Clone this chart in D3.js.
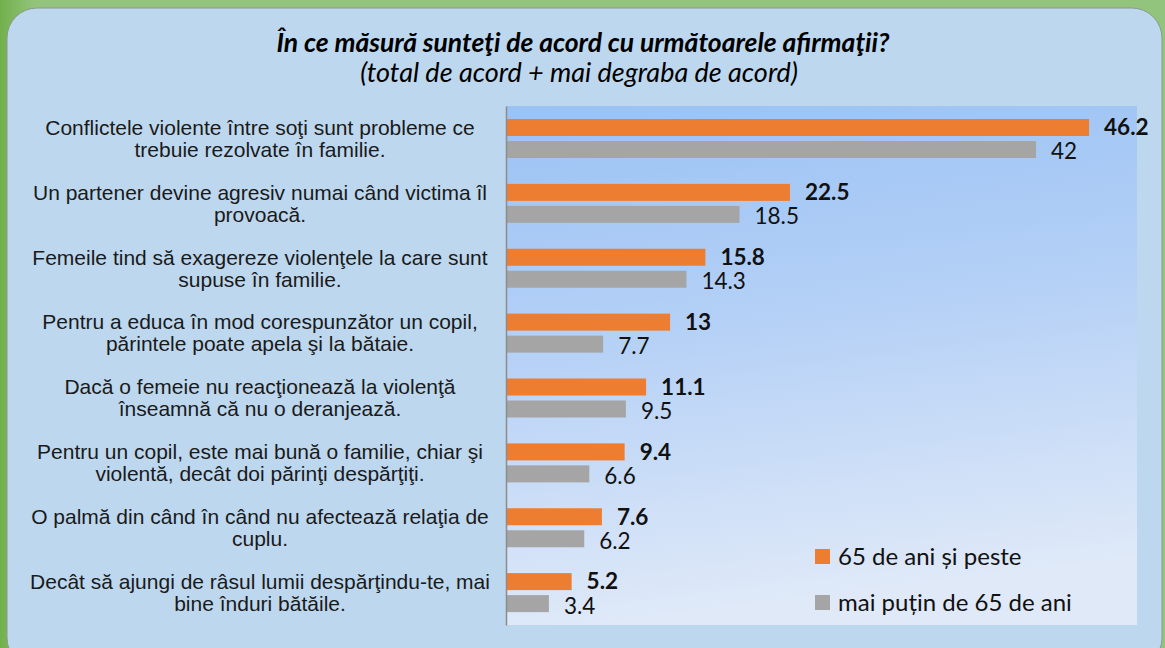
<!DOCTYPE html>
<html>
<head>
<meta charset="utf-8">
<script src="https://cdn.jsdelivr.net/npm/d3@7"></script>
<style>
	body { margin: 0; background: #93c47d; }
	svg { display: block; }
</style>
</head>
<body>
<script>
//Chart data
let categories = [
	["Conflictele violente între soţi sunt probleme ce", "trebuie rezolvate în familie."],
	["Un partener devine agresiv numai când victima îl", "provoacă."],
	["Femeile tind să exagereze violenţele la care sunt", "supuse în familie."],
	["Pentru a educa în mod corespunzător un copil,", "părintele poate apela şi la bătaie."],
	["Dacă o femeie nu reacţionează la violenţă", "înseamnă că nu o deranjează."],
	["Pentru un copil, este mai bună o familie, chiar şi", "violentă, decât doi părinţi despărţiţi."],
	["O palmă din când în când nu afectează relaţia de", "cuplu."],
	["Decât să ajungi de râsul lumii despărţindu-te, mai", "bine înduri bătăile."]
];
let seriesNames = ["65 de ani și peste", "mai puțin de 65 de ani"];
let oldValues = [46.2, 22.5, 15.8, 13, 11.1, 9.4, 7.6, 5.2];
let youngValues = [42, 18.5, 14.3, 7.7, 9.5, 6.6, 6.2, 3.4];
let colors = ["#ed7d31", "#a5a5a5"];

window.onload = drawChart();

function drawChart(){

	let width = 1165;
	let height = 648;

	let svg = d3.select("body")
		.append("svg")
		.attr("width", width)
		.attr("height", height);

	let defs = svg.append("defs");
	let grad = defs.append("linearGradient")
		.attr("id", "plotGrad")
		.attr("x1", 0).attr("y1", 0)
		.attr("x2", 0.15).attr("y2", 1);
	grad.append("stop").attr("offset", "0%").attr("stop-color", "#9ac2f4");
	grad.append("stop").attr("offset", "45%").attr("stop-color", "#b4d0f6");
	grad.append("stop").attr("offset", "100%").attr("stop-color", "#dfe9f8");

	let greenGrad = defs.append("linearGradient")
		.attr("id", "greenGrad")
		.attr("x1", 0).attr("y1", 0)
		.attr("x2", 1).attr("y2", 0);
	greenGrad.append("stop").attr("offset", "0%").attr("stop-color", "#72b04c");
	greenGrad.append("stop").attr("offset", "3%").attr("stop-color", "#93c47d");
	greenGrad.append("stop").attr("offset", "100%").attr("stop-color", "#93c47d");

	//Green background and rounded panel
	svg.append("rect")
		.attr("width", width)
		.attr("height", height)
		.attr("fill", "url(#greenGrad)");

	svg.append("rect")
		.attr("x", 7)
		.attr("y", 8)
		.attr("width", 1155)
		.attr("height", 660)
		.attr("rx", 30)
		.attr("fill", "#bdd7ee")
		.attr("stroke", "#8a9a88")
		.attr("stroke-width", 1);

	//Title
	svg.append("text")
		.attr("x", 583)
		.attr("y", 52)
		.attr("text-anchor", "middle")
		.style("font-family", "Lato")
		.style("font-size", "26.5px")
		.style("font-weight", "bold")
		.style("font-style", "italic")
		.text("În ce măsură sunteţi de acord cu următoarele afirmaţii?");

	svg.append("text")
		.attr("x", 579)
		.attr("y", 82)
		.attr("text-anchor", "middle")
		.style("font-family", "Lato")
		.style("font-size", "27px")
		.style("font-style", "italic")
		.text("(total de acord + mai degraba de acord)");

	//Plot area
	let plotLeft = 506, plotRight = 1137, plotTop = 106, plotBottom = 625;

	svg.append("rect")
		.attr("x", plotLeft)
		.attr("y", plotTop)
		.attr("width", plotRight - plotLeft)
		.attr("height", plotBottom - plotTop)
		.attr("fill", "url(#plotGrad)");

	let x = d3.scaleLinear()
		.domain([0, 50])
		.range([plotLeft, plotRight]);

	let y = d3.scaleBand()
		.domain(d3.range(categories.length))
		.range([plotTop, plotBottom]);

	let ySub = d3.scaleBand()
		.domain([0, 1])
		.range([13, 52])
		.paddingInner(0.2273);

	let rows = categories.map(function(c, i){
		return {label: c, values: [oldValues[i], youngValues[i]]};
	});

	let groups = svg.selectAll(".group")
		.data(rows)
		.enter()
		.append("g")
		.attr("class", "group")
		.attr("transform", function(d, i){ return "translate(0," + y(i) + ")"; });

	groups.selectAll(".bar")
		.data(function(d){ return d.values; })
		.enter()
		.append("rect")
		.attr("class", "bar")
		.attr("x", x(0))
		.attr("y", function(d, j){ return ySub(j); })
		.attr("width", function(d){ return x(d) - x(0); })
		.attr("height", ySub.bandwidth())
		.attr("fill", function(d, j){ return colors[j]; });

	groups.selectAll(".val")
		.data(function(d){ return d.values; })
		.enter()
		.append("text")
		.attr("class", "val")
		.attr("x", function(d){ return x(d) + 15; })
		.attr("y", function(d, j){ return ySub(j) + ySub.bandwidth() / 2 + (j === 0 ? 0 : 2); })
		.attr("dy", "0.35em")
		.style("font-family", "Lato")
		.style("font-size", "22.5px")
		.style("font-weight", function(d, j){ return j === 0 ? "bold" : "normal"; })
		.attr("fill", "#111")
		.text(function(d){ return d; });

	//Category labels
	groups.append("text")
		.attr("text-anchor", "middle")
		.style("font-family", "Liberation Sans, Arial, sans-serif")
		.style("font-size", "21px")
		.attr("fill", "#1a1a1a")
		.selectAll("tspan")
		.data(function(d){ return d.label; })
		.enter()
		.append("tspan")
		.attr("x", 260)
		.attr("y", function(d, k){ return y.bandwidth() / 2 - 11 + k * 22; })
		.attr("dy", "0.35em")
		.text(function(d){ return d; });

	//Axis line
	svg.append("g")
		.attr("transform", "translate(" + plotLeft + ",0)")
		.call(d3.axisLeft(y).tickSize(0).tickFormat(""))
		.call(function(g){ g.select(".domain").attr("stroke", "#8c8c8c").attr("stroke-width", 1.5); });

	//Legend
	let legend = svg.selectAll(".legend")
		.data(seriesNames)
		.enter()
		.append("g")
		.attr("class", "legend")
		.attr("transform", function(d, i){ return "translate(815," + (549 + i * 46) + ")"; });

	legend.append("rect")
		.attr("width", 15)
		.attr("height", 15)
		.attr("fill", function(d, i){ return colors[i]; });

	legend.append("text")
		.attr("x", 23)
		.attr("y", 8)
		.attr("dy", "0.35em")
		.style("font-family", "Lato")
		.style("font-size", "24px")
		.attr("fill", "#111")
		.text(function(d){ return d; });
};
</script>
</body>
</html>
